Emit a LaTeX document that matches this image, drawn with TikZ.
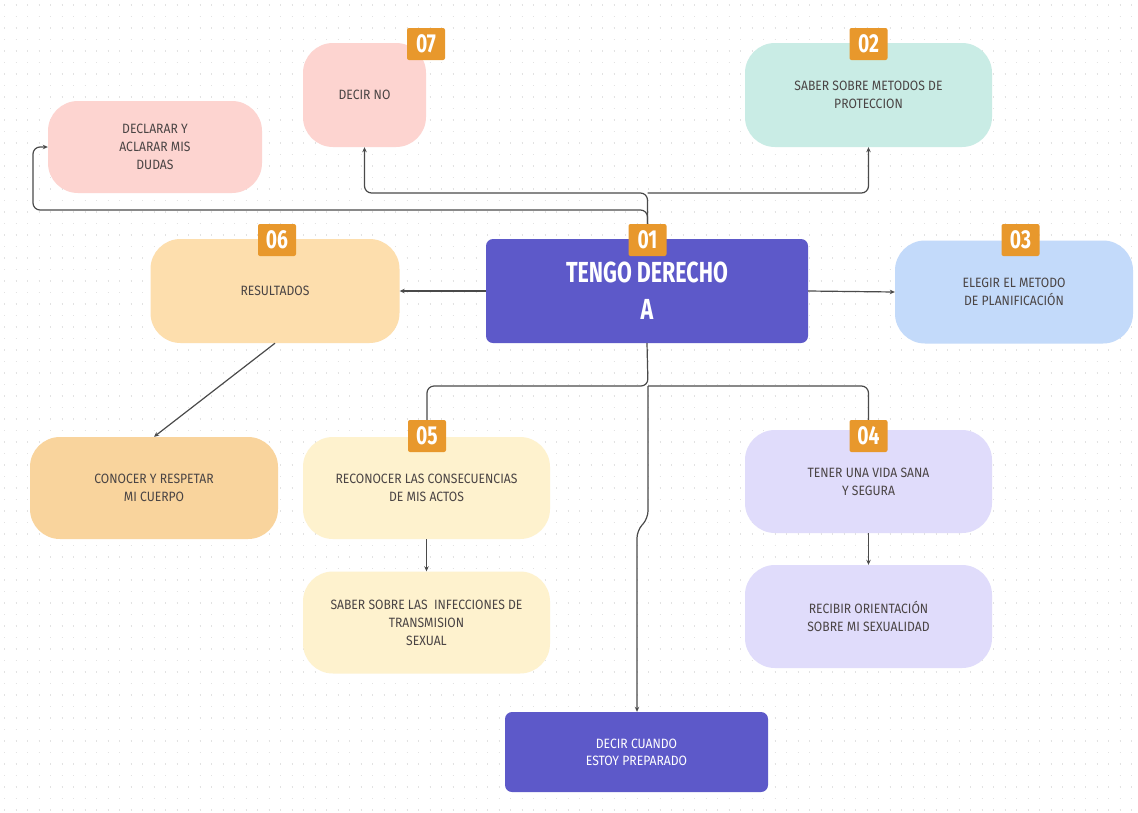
\documentclass[tikz,border=0pt]{standalone}
\usepackage{fontspec}
\setmainfont{Fira Sans}
\newfontfamily\lblfont[FakeStretch=0.9]{Fira Sans}
\newfontfamily\ttlfont[FakeStretch=0.74]{Fira Sans}
\usetikzlibrary{arrows.meta}
\definecolor{dotc}{HTML}{E2E2E2}
\definecolor{pinkc}{HTML}{FDD4D0}
\definecolor{mintc}{HTML}{C9ECE5}
\definecolor{peachc}{HTML}{FDDEAD}
\definecolor{peachdc}{HTML}{F9D49D}
\definecolor{yellc}{HTML}{FEF2CE}
\definecolor{lavc}{HTML}{E0DCFB}
\definecolor{bluec}{HTML}{C3DAFA}
\definecolor{purpc}{HTML}{5D59C9}
\definecolor{orangec}{HTML}{E8982C}
\definecolor{linec}{HTML}{4A4A4A}
\definecolor{txtc}{HTML}{4A4444}
\tikzset{
  pastel/.style={draw=none, rounded corners=30pt, inner sep=0pt, align=center,
    text=txtc, font=\lblfont\fontsize{13.5}{18}\selectfont},
  purplebox/.style={draw=none, fill=purpc, rounded corners=7pt, inner sep=0pt, align=center,
    text=white},
  badge/.style={draw=none, fill=orangec, rounded corners=2pt, minimum width=38pt,
    minimum height=32pt, inner sep=0pt, text=white,
    font=\ttlfont\bfseries\fontsize{26}{26}\selectfont},
  conn/.style={draw=linec, line width=1.2pt, rounded corners=7pt},
  tipped/.style={-{Stealth[length=5pt,width=4.5pt]}}
}
\begin{document}
\begin{tikzpicture}[x=1pt,y=-1pt]
\useasboundingbox (0,0) rectangle (1138,812);
\fill[white] (0,0) rectangle (1138,812);
% dotted background grid
\foreach \yy in {5,16.5,...,812}
  \draw[dotc, line width=1.3pt, dash pattern=on 1.3pt off 10.2pt] (4,\yy) -- (1138,\yy);

% boxes
\node[pastel, fill=pinkc, minimum width=214pt, minimum height=92pt] (decl) at (155,147)
  {DECLARAR Y\\ACLARAR MIS\\DUDAS};
\node[pastel, fill=pinkc, minimum width=123pt, minimum height=104pt] (no) at (364.5,95)
  {DECIR NO};
\node[pastel, fill=mintc, minimum width=247pt, minimum height=104pt] (prot) at (868.5,95)
  {SABER SOBRE METODOS DE\\PROTECCION};
\node[pastel, fill=peachc, minimum width=249pt, minimum height=104pt] (res) at (275,291)
  {RESULTADOS};
\node[purplebox, minimum width=322pt, minimum height=104pt,
  font=\ttlfont\bfseries\fontsize{29}{37}\selectfont] (main) at (647,291)
  {TENGO DERECHO\\A};
\node[pastel, fill=bluec, minimum width=238pt, minimum height=103pt] (eleg) at (1014,292)
  {ELEGIR EL METODO\\ DE PLANIFICACIÓN};
\node[pastel, fill=peachdc, minimum width=248pt, minimum height=102pt] (con) at (154,488)
  {CONOCER Y RESPETAR\\MI CUERPO};
\node[pastel, fill=yellc, minimum width=247pt, minimum height=102pt] (rec) at (426.5,488)
  {RECONOCER LAS CONSECUENCIAS\\DE MIS ACTOS};
\node[pastel, fill=yellc, minimum width=247pt, minimum height=102pt] (inf) at (426.5,622.5)
  {SABER SOBRE LAS\ \ INFECCIONES DE\\TRANSMISION\\SEXUAL};
\node[pastel, fill=lavc, minimum width=247pt, minimum height=103pt] (vida) at (868.5,481.5)
  {TENER UNA VIDA SANA\\Y SEGURA};
\node[pastel, fill=lavc, minimum width=247pt, minimum height=103pt] (recib) at (868.5,616.5)
  {RECIBIR ORIENTACIÓN\\SOBRE MI SEXUALIDAD};
\node[purplebox, minimum width=263pt, minimum height=80pt,
  font=\lblfont\fontsize{13.5}{17}\selectfont] (cuando) at (636.5,752)
  {DECIR CUANDO\\ESTOY PREPARADO};

% badges
\node[badge] (b07) at (426,44) {07};
\node[badge] (b02) at (868.5,44) {02};
\node[badge] (b06) at (277,240) {06};
\node[badge] (b01) at (647.5,240) {01};
\node[badge] (b03) at (1020.5,240) {03};
\node[badge] (b05) at (427,436) {05};
\node[badge] (b04) at (868.5,436) {04};

% waypoints
\coordinate (t1) at (647.5,193);
\coordinate (t2) at (647.5,210);
\coordinate (d1) at (33,210);
\coordinate (m1) at (648,386);
\coordinate (j1) at (648,518);
\coordinate (j2) at (637,531);

% connectors
\draw[conn, tipped] (b01.north) -- (t2) -- (d1) |- (decl.west);
\draw[conn, tipped] (b01.north) -- (t1) -| (no.south);
\draw[conn, tipped] (t1) -| (prot.south);
\draw[conn, tipped] (main.west) -- (res.east);
\draw[conn, tipped] (main.east) -- (eleg.west);
\draw[conn, tipped] (res.south) -- (con.north);
\draw[conn] (main.south) -- (m1) -| (b05.north);
\draw[conn] (m1) -| (b04.north);
\draw[conn, tipped] (m1) -- (j1) -- (j2) -- (cuando.north -| j2);
\draw[conn, tipped] (rec.south) -- (inf.north);
\draw[conn, tipped] (vida.south) -- (recib.north);
\end{tikzpicture}
\end{document}
